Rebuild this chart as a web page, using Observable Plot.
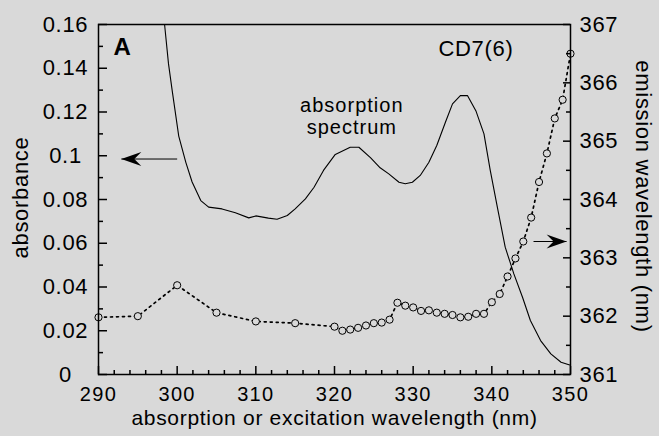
<!DOCTYPE html>
<html><head><meta charset="utf-8">
<script src="https://cdn.jsdelivr.net/npm/d3@7"></script>
<script src="https://cdn.jsdelivr.net/npm/@observablehq/plot@0.6"></script>
<style>
html,body{margin:0;padding:0;background:#d9d9d9;}
#chart svg text{letter-spacing:0.7px;}
#chart svg g.xlab text{letter-spacing:1.3px;}
#chart svg g.curvelab text{letter-spacing:1px;}
</style></head><body><div id="chart"></div>
<script>
// Absorption spectrum (left axis)
const absWavelength = [298.4,298.9,299.4,300.2,301.1,301.9,303.0,304.0,305.7,307.4,309.1,310.0,311.6,312.7,314.0,315.0,316.3,317.4,318.6,320.1,322.0,323.1,324.6,325.8,326.9,328.2,329.0,329.9,330.9,332.0,333.0,334.1,335.0,336.0,336.9,338.0,339.0,339.8,340.7,341.7,342.8,343.9,344.9,346.2,347.5,348.8,350.0];
const absorbance = [0.160,0.142,0.129,0.109,0.097,0.088,0.0795,0.0765,0.0757,0.0739,0.0716,0.0725,0.0715,0.0710,0.0727,0.0757,0.0803,0.0856,0.0933,0.1006,0.1039,0.1039,0.0990,0.0945,0.0917,0.0879,0.0872,0.0879,0.0910,0.0970,0.1047,0.1153,0.1237,0.1275,0.1275,0.1203,0.1100,0.0933,0.0765,0.0582,0.0460,0.0353,0.0247,0.0155,0.0094,0.0056,0.0042];
// Emission wavelength (right axis)
const emWavelength = [290,295,300,305,310,315,320,321,322,323,324,325,326,327,328,329,330,331,332,333,334,335,336,337,338,339,340,341,342,343,344,345,346,347,348,349,350];
const emission = [361.98,362.00,362.53,362.06,361.91,361.88,361.82,361.75,361.77,361.80,361.84,361.88,361.89,361.94,362.23,362.18,362.15,362.09,362.10,362.06,362.04,362.02,361.98,361.99,362.04,362.04,362.24,362.38,362.68,362.99,363.28,363.69,364.30,364.79,365.39,365.71,366.50];
// Ticks
const xMajorTicks = [290,300,310,320,330,340,350];
const xMinorTicks = d3.range(292,350,2).filter(d => d % 10 !== 0);
const yLeftTicks = [0,0.02,0.04,0.06,0.08,0.10,0.12,0.14,0.16];
const yLeftLabels = ["0","0.02","0.04","0.06","0.08","0.1","0.12","0.14","0.16"];
const yLeftMinor = [0.01,0.03,0.05,0.07,0.09,0.11,0.13,0.15];
const yRightTicks = [361,362,363,364,365,366,367];
const yRightMinor = [361.5,362.5,363.5,364.5,365.5,366.5];
// Annotations
const arrowLeft = {x1:300.0, x2:292.9, y:0.0985};
const arrowRight = {x1:345.3, x2:349.5, e:363.28};
const curveLabelLines = ["absorption","spectrum"];
const curveLabelY = [0.1230,0.1130];
const curveLabelX = 322.2;
const texts = {panel:"A", sample:"CD7(6)"};

const bg = "#d9d9d9";
const font = "'Liberation Sans', Arial, Helvetica, sans-serif";
const W=659, H=436, mL=98, mR=89, mT=24, mB=62;
const pw = W-mL-mR, ph = H-mT-mB;
const em2abs = d3.scaleLinear([361,367],[0,0.16]);

const spectrum = absWavelength.map((nm,i)=>({nm, a:absorbance[i]}));
const emData = emWavelength.map((nm,i)=>({nm, y:em2abs(emission[i])}));

const headRight = {draw(ctx){ctx.moveTo(0,0);ctx.lineTo(-20,-7);ctx.lineTo(-13,0);ctx.lineTo(-20,7);ctx.closePath();}};
const headLeft = {draw(ctx){ctx.moveTo(0,0);ctx.lineTo(20,-7);ctx.lineTo(13,0);ctx.lineTo(20,7);ctx.closePath();}};

const fs = 22;
const T = {fontSize:fs, fill:"black", lineAnchor:"middle"};
const chart = Plot.plot({
  width:W, height:H, marginLeft:mL, marginRight:mR, marginTop:mT, marginBottom:mB,
  style:{background:bg, fontFamily:font, color:"black", overflow:"visible"},
  x:{domain:[290,350], axis:null},
  y:{domain:[0,0.16], axis:null},
  marks:[
    Plot.line(spectrum, {x:"nm", y:"a", stroke:"black", strokeWidth:1.1}),
    Plot.line(emData, {x:"nm", y:"y", stroke:"black", strokeWidth:1.7, strokeDasharray:"2,4"}),
    Plot.dot(emData, {x:"nm", y:"y", r:3.6, stroke:"black", strokeWidth:1, fill:bg}),
    Plot.frame({stroke:"black", strokeWidth:1.5}),
    Plot.ruleY(yLeftTicks, {y:d=>d, insetRight:pw-9, stroke:"black", strokeWidth:1.5}),
    Plot.ruleY(yLeftMinor, {y:d=>d, insetRight:pw-5, stroke:"black", strokeWidth:1.5}),
    Plot.ruleY(yRightTicks, {y:d=>em2abs(d), insetLeft:pw-7, stroke:"black", strokeWidth:1.5}),
    Plot.ruleY(yRightMinor, {y:d=>em2abs(d), insetLeft:pw-4, stroke:"black", strokeWidth:1.5}),
    Plot.ruleX(xMajorTicks, {x:d=>d, insetTop:ph-8, stroke:"black", strokeWidth:1.5}),
    Plot.ruleX(xMinorTicks, {x:d=>d, insetTop:ph-4, stroke:"black", strokeWidth:1.5}),
    Plot.text(yLeftTicks, {...T, y:d=>d, text:(d,i)=>yLeftLabels[i], frameAnchor:"left", dx:-33, textAnchor:"middle"}),
    Plot.text(yRightTicks, {...T, y:d=>em2abs(d), text:d=>String(d), frameAnchor:"right", dx:9, textAnchor:"start"}),
    Plot.text(xMajorTicks, {...T, x:d=>d, text:d=>String(d), frameAnchor:"bottom", dy:20.5, textAnchor:"middle", fontSize:20, className:"xlab"}),
    Plot.text(["absorption or excitation wavelength (nm)"], {...T, text:d=>d, frameAnchor:"bottom", dy:44, textAnchor:"middle", fontSize:21}),
    Plot.text(["absorbance"], {...T, text:d=>d, frameAnchor:"left", dx:-78, dy:-2, rotate:-90, textAnchor:"middle"}),
    Plot.text(["emission wavelength (nm)"], {...T, text:d=>d, frameAnchor:"right", dx:73, dy:-3, rotate:90, textAnchor:"middle"}),
    Plot.text([texts.panel], {...T, text:d=>d, frameAnchor:"top-left", dx:15, dy:23, textAnchor:"start", fontSize:24, fontWeight:"bold"}),
    Plot.text([texts.sample], {...T, text:d=>d, frameAnchor:"top-right", dx:-57, dy:24, textAnchor:"end"}),
    Plot.text(curveLabelLines, {...T, x:()=>curveLabelX, y:(d,i)=>curveLabelY[i], text:d=>d, textAnchor:"middle", fontSize:20, className:"curvelab"}),
    Plot.link([arrowLeft], {x1:"x1", x2:"x2", y1:"y", y2:"y", stroke:"black", strokeWidth:1}),
    Plot.dot([arrowLeft], {x:"x2", y:"y", symbol:headLeft, fill:"black", stroke:"none"}),
    Plot.link([arrowRight], {x1:"x1", x2:"x2", y1:d=>em2abs(d.e), y2:d=>em2abs(d.e), stroke:"black", strokeWidth:1}),
    Plot.dot([arrowRight], {x:"x2", y:d=>em2abs(d.e), symbol:headRight, fill:"black", stroke:"none"})
  ]
});
document.getElementById("chart").appendChild(chart);
</script></body></html>
